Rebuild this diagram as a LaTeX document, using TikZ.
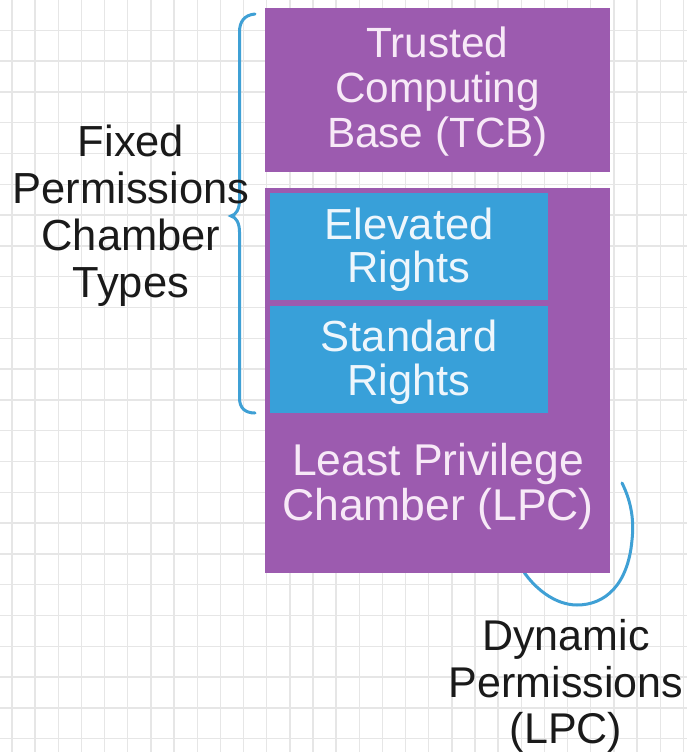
\documentclass[tikz,border=0pt]{standalone}
\usepackage{fontspec}
\setmainfont{Liberation Sans}
\definecolor{purp}{HTML}{9C5BAF}
\definecolor{blu}{HTML}{38A0D9}
\definecolor{brc}{HTML}{3FA0D5}
\definecolor{gridc}{HTML}{E6E6E6}
\definecolor{ptext}{HTML}{F7E9F7}
\definecolor{btext}{HTML}{EEF6FC}
\definecolor{dtext}{HTML}{1A1A1A}
\begin{document}
\begin{tikzpicture}[x=1pt,y=-1pt,
  box/.style={draw=none, inner sep=0pt, outer sep=0pt, anchor=north west},
  lbl/.style={align=center, inner sep=0pt, font=\fontsize{42}{45}\selectfont},
  bracel/.style={draw=brc, line width=3pt, line cap=round}]
\useasboundingbox (0,0) rectangle (687,752);
\fill[white] (0,0) rectangle (687,752);
\foreach \i in {0,...,29} \draw[gridc, line width=1.4pt] ({12+23.15*\i},0) -- ({12+23.15*\i},752);
\foreach \j in {0,...,23} \draw[gridc, line width=1.4pt] (0,{30.3+30.8*\j}) -- (687,{30.3+30.8*\j});

% arc behind the LPC box
\coordinate (a1) at (622,483);
\coordinate (a2) at (632,540);
\coordinate (a3) at (577,605);
\coordinate (a4) at (520,566);
\draw[bracel] (a1) .. controls (632,503) and (634,522) .. (a2)
  .. controls (628,585) and (605,605) .. (a3)
  .. controls (555,605) and (533,588) .. (a4);

% boxes
\node[box, fill=purp, minimum width=345pt, minimum height=164pt] (tcb) at (265,8) {};
\node[lbl, text=ptext, font=\fontsize{42.3}{45}\selectfont] (tcbt) at ([yshift=-2pt]tcb.center) {Trusted\\Computing\\Base (TCB)};
\node[box, fill=purp, minimum width=345pt, minimum height=385pt] (lpc) at (265,188) {};
\node[box, fill=blu, minimum width=278pt, minimum height=107pt] (elev) at (270,193) {};
\node[box, fill=blu, minimum width=278pt, minimum height=107pt] (std) at (270,306) {};
\node[lbl, text=btext, font=\fontsize{43.5}{43}\selectfont] (elevt) at ([yshift=-3pt]elev.center) {Elevated\\Rights};
\node[lbl, text=btext, font=\fontsize{43.5}{44}\selectfont] (stdt) at ([yshift=-3pt]std.center) {Standard\\Rights};
\node[lbl, text=ptext, font=\fontsize{44.5}{45}\selectfont] (lpct) at (438,486) {Least Privilege\\Chamber (LPC)};

% brace
\coordinate (b1) at (255,14);
\coordinate (b2) at (231,216);
\coordinate (b3) at (255,413);
\draw[bracel] (b1) .. controls (244,15) and (239.5,22) .. (239.5,32) -- (239.5,200)
  .. controls (239.5,209) and (236,215) .. (b2)
  .. controls (236,217) and (239.5,223) .. (239.5,232) -- (239.5,398)
  .. controls (239.5,408) and (245,413) .. (b3);

% labels
\node[lbl, text=dtext, font=\fontsize{43.5}{47}\selectfont] (fixed) at (131,216) {Fixed\\Permissions\\Chamber\\Types};
\node[lbl, text=dtext, font=\fontsize{43}{46.5}\selectfont] (dyn) at (566,686) {Dynamic\\Permissions\\(LPC)};
\end{tikzpicture}
\end{document}
